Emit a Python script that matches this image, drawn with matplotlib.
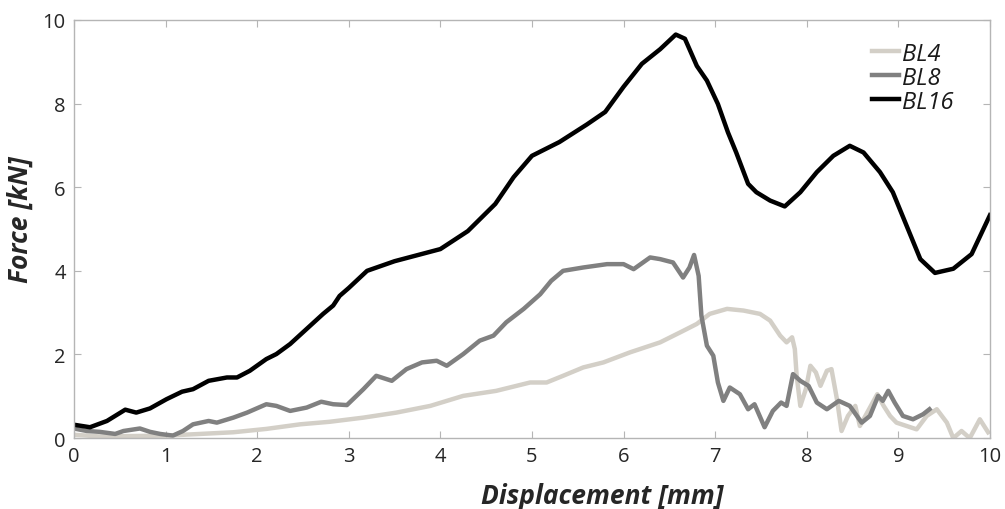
import matplotlib
matplotlib.use("Agg")
import matplotlib.pyplot as plt

plt.rcParams['font.family'] = ['Open Sans', 'DejaVu Sans']

# BL16 (black)
bl16_x = [0.0, 0.175, 0.36, 0.56, 0.68, 0.83, 1.01, 1.18, 1.30, 1.47, 1.67, 1.78, 1.92,
          2.10, 2.21, 2.36, 2.54, 2.72, 2.83, 2.90, 3.0, 3.2, 3.5, 4.0, 4.3, 4.6, 4.8,
          5.0, 5.3, 5.6, 5.8, 6.0, 6.2, 6.4, 6.57, 6.67, 6.80, 6.91, 7.03, 7.14, 7.23,
          7.36, 7.45, 7.60, 7.76, 7.93, 8.11, 8.29, 8.47, 8.62, 8.80, 8.94, 9.09, 9.24,
          9.40, 9.6, 9.8, 10.0]
bl16_y = [0.32, 0.26, 0.41, 0.68, 0.61, 0.71, 0.93, 1.11, 1.17, 1.37, 1.45, 1.45, 1.61,
          1.89, 2.01, 2.25, 2.61, 2.97, 3.17, 3.40, 3.59, 4.0, 4.23, 4.52, 4.95, 5.6, 6.24,
          6.75, 7.08, 7.5, 7.8, 8.4, 8.95, 9.3, 9.65, 9.55, 8.9, 8.55, 7.99, 7.31, 6.83,
          6.08, 5.88, 5.68, 5.54, 5.88, 6.36, 6.75, 6.99, 6.83, 6.36, 5.88, 5.08, 4.28,
          3.95, 4.05, 4.4, 5.33]

# BL8 (mid grey)
bl8_x = [0.0, 0.14, 0.28, 0.45, 0.54, 0.72, 0.83, 0.94, 1.08, 1.19, 1.30, 1.47, 1.56,
         1.74, 1.89, 2.10, 2.21, 2.36, 2.54, 2.70, 2.83, 2.98, 3.16, 3.30, 3.47, 3.63,
         3.80, 3.96, 4.07, 4.25, 4.43, 4.58, 4.72, 4.91, 5.09, 5.21, 5.34, 5.56, 5.82,
         6.00, 6.11, 6.29, 6.40, 6.54, 6.65, 6.72, 6.77, 6.82, 6.85, 6.91, 6.98, 7.03,
         7.09, 7.16, 7.27, 7.36, 7.43, 7.54, 7.63, 7.72, 7.78, 7.85, 7.93, 8.02, 8.11,
         8.22, 8.35, 8.47, 8.60, 8.69, 8.78, 8.83, 8.89, 8.96, 9.05, 9.16, 9.27, 9.34]
bl8_y = [0.23, 0.17, 0.15, 0.10, 0.17, 0.23, 0.15, 0.10, 0.06, 0.17, 0.33, 0.41, 0.37,
         0.49, 0.61, 0.81, 0.77, 0.65, 0.73, 0.87, 0.81, 0.79, 1.17, 1.49, 1.37, 1.65,
         1.81, 1.85, 1.73, 2.01, 2.33, 2.45, 2.77, 3.09, 3.44, 3.76, 4.00, 4.08, 4.16,
         4.16, 4.04, 4.32, 4.28, 4.20, 3.84, 4.08, 4.38, 3.88, 2.93, 2.21, 1.97, 1.33,
         0.89, 1.21, 1.05, 0.69, 0.81, 0.26, 0.65, 0.85, 0.77, 1.53, 1.37, 1.25, 0.85,
         0.69, 0.89, 0.77, 0.37, 0.53, 1.01, 0.89, 1.13, 0.85, 0.53, 0.45, 0.57, 0.69]

# BL4 (light grey)
bl4_x = [0.0, 0.28, 1.01, 1.38, 1.74, 2.10, 2.47, 2.79, 3.16, 3.52, 3.89, 4.25, 4.61,
         4.98, 5.16, 5.34, 5.56, 5.78, 6.07, 6.29, 6.40, 6.62, 6.80, 6.94, 7.13, 7.31,
         7.49, 7.60, 7.71, 7.78, 7.84, 7.87, 7.89, 7.93, 7.99, 8.04, 8.10, 8.15, 8.22,
         8.27, 8.33, 8.38, 8.45, 8.53, 8.58, 8.69, 8.77, 8.84, 8.91, 8.98, 9.09, 9.20,
         9.31, 9.42, 9.53, 9.60, 9.69, 9.78, 9.89, 9.98]
bl4_y = [0.08, 0.04, 0.06, 0.10, 0.14, 0.22, 0.33, 0.39, 0.49, 0.61, 0.77, 1.01, 1.13,
         1.33, 1.33, 1.49, 1.69, 1.81, 2.05, 2.21, 2.29, 2.53, 2.73, 2.97, 3.09, 3.05,
         2.97, 2.81, 2.45, 2.29, 2.41, 2.13, 1.49, 0.77, 1.17, 1.73, 1.57, 1.25, 1.61,
         1.65, 0.93, 0.17, 0.53, 0.77, 0.29, 0.73, 1.05, 0.77, 0.53, 0.37, 0.29, 0.21,
         0.53, 0.69, 0.37, 0.0, 0.17, 0.0, 0.45, 0.14]

series = [("BL4", bl4_x, bl4_y, "#d3cfc7"),
          ("BL8", bl8_x, bl8_y, "#808080"),
          ("BL16", bl16_x, bl16_y, "#000000")]

fig = plt.figure(figsize=(10.05, 5.10), dpi=100)
ax = fig.add_axes([0.0736, 0.139, 0.9114, 0.820])

for name, xs, ys, col in series:
    ax.plot(xs, ys, color=col, lw=3.2, label=name, solid_joinstyle='round')

ax.set_xlim(0, 10)
ax.set_ylim(0, 10)
ax.set_xticks(range(0, 11))
ax.set_yticks(range(0, 11, 2))
for s in ax.spines.values():
    s.set_color("#b5b5b5")
    s.set_linewidth(1.0)
ax.tick_params(direction='in', length=5, color="#b5b5b5", labelsize=14.5,
               labelcolor="#262626", top=True, right=True, pad=6)

ax.set_xlabel("Displacement [mm]", fontsize=19, fontweight='bold', style='italic',
              color="#262626")
ax.xaxis.set_label_coords(0.577, -0.104)
ax.set_ylabel("Force [kN]", fontsize=19, fontweight='bold', style='italic',
              color="#262626")
ax.yaxis.set_label_coords(-0.044, 0.524)

leg = ax.legend(loc='upper left', bbox_to_anchor=(0.871, 0.948), frameon=False,
                fontsize=17, handlelength=1.15, handletextpad=0.12,
                labelspacing=0.0, borderaxespad=0, borderpad=0)
for t in leg.get_texts():
    t.set_style('italic')
    t.set_color("#1a1a1a")

fig.savefig("out.png", dpi=100)
